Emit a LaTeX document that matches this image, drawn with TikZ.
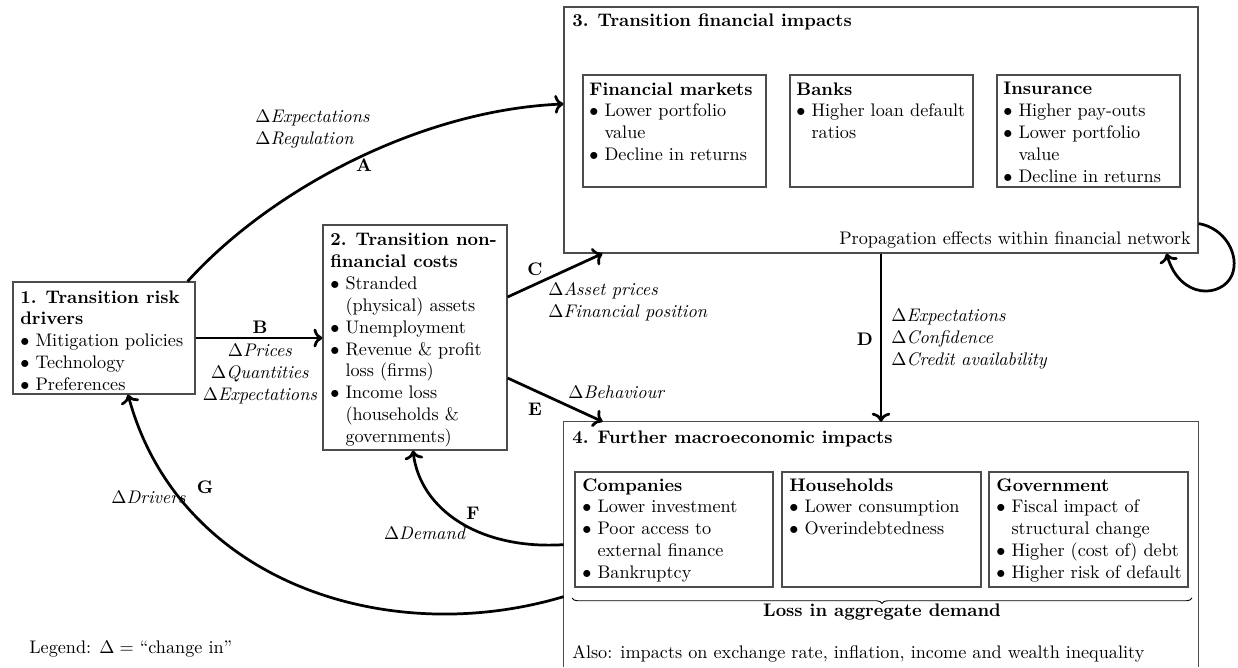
\documentclass[tikz,border=0pt]{standalone}
\usetikzlibrary{fit,decorations.pathreplacing,arrows.meta}
\newcommand{\pxu}{0.5495pt}
\newcommand{\myb}{$\bullet$\ }
\newcommand{\myc}{$\hphantom{\bullet}$\ }
\begin{document}
\begin{tikzpicture}[x=0.5495pt, y=-0.5495pt,
  box/.style={draw=black!70, line width=0.6pt, inner sep=0pt},
  boxline/.style={draw=black!70, line width=0.6pt},
  txt/.style={align=left, inner sep=0pt, anchor=north west},
  lbl/.style={inner sep=0pt, align=left},
  arr/.style={->, line width=1.5pt, black},
  letter/.style={inner sep=0pt, font=\bfseries}]

\useasboundingbox (0,0) rectangle (1238,667);

% main boxes
\node[box, fit={(13,282) (195,394)}] (b1) {};
\node[box, fit={(323,225) (507,450)}] (b2) {};
\node[box, fit={(564,7) (1198,253)}] (b3) {};
\node[inner sep=0pt, fit={(564,422) (1198,667)}] (b4) {};
\draw[boxline] (b4.south west) -- (b4.north west) -- (b4.north east) -- (b4.south east);

% inner boxes
\node[box, fit={(583,75) (766,187)}] (fm) {};
\node[box, fit={(790,75) (973,187)}] (bk) {};
\node[box, fit={(997,75) (1180,187)}] (ins) {};
\node[box, fit={(575,472) (773,587)}] (co) {};
\node[box, fit={(782,472) (981,587)}] (hh) {};
\node[box, fit={(989,472) (1188,587)}] (gv) {};

% texts
\node[txt] (t1) at (20,290) {\textbf{1.\enspace Transition risk}\\\textbf{drivers}\\\myb Mitigation policies\\\myb Technology\\\myb Preferences};
\node[txt] (t2) at (330,233) {\textbf{2.\enspace Transition non-}\\\textbf{financial costs}\\\myb Stranded\\\myc (physical) assets\\\myb Unemployment\\\myb Revenue \& profit\\\myc loss (firms)\\\myb Income loss\\\myc (households \&\\\myc governments)};
\node[txt] (t3) at (572,13) {\textbf{3.\enspace Transition financial impacts}};
\node[txt] (tfm) at (589,82) {\textbf{Financial markets}\\\myb Lower portfolio\\\myc value\\\myb Decline in returns};
\node[txt] (tbk) at (796,82) {\textbf{Banks}\\\myb Higher loan default\\\myc ratios};
\node[txt] (tins) at (1003,82) {\textbf{Insurance}\\\myb Higher pay-outs\\\myb Lower portfolio\\\myc value\\\myb Decline in returns};
\node[lbl, anchor=south east] (prop) at (1191,249) {Propagation effects within financial network};

\node[txt] (t4) at (572,430) {\textbf{4.\enspace Further macroeconomic impacts}};
\node[txt] (tco) at (582,478) {\textbf{Companies}\\\myb Lower investment\\\myb Poor access to\\\myc external finance\\\myb Bankruptcy};
\node[txt] (thh) at (789,478) {\textbf{Households}\\\myb Lower consumption\\\myb Overindebtedness};
\node[txt] (tgv) at (996,478) {\textbf{Government}\\\myb Fiscal impact of\\\myc structural change\\\myb Higher (cost of) debt\\\myb Higher risk of default};
\draw[decorate, decoration={brace, mirror, amplitude=3pt}, line width=0.5pt] (572,598) -- (1192,598);
\node[lbl, font=\bfseries] (loss) at (882,612) {Loss in aggregate demand};
\node[lbl, anchor=base west] (also) at (572,658) {Also: impacts on exchange rate, inflation, income and wealth inequality};
\node[lbl, anchor=base west] (leg) at (29,653) {Legend: $\Delta=$ ``change in''};

% connectors
\draw[arr] ([xshift=-8*\pxu]b1.north east) .. controls (270,190) and (420,110) .. ([yshift=26*\pxu]b3.west);
\draw[arr] (b1.east) -- (b1.east -| b2.west);
\draw[arr] ([yshift=40.5*\pxu]b2.east) -- ([xshift=39*\pxu]b3.south west);
\draw[arr] ([yshift=-40.5*\pxu]b2.east) -- ([xshift=39*\pxu]b4.north west);
\draw[arr] (b3.south) -- (b4.north);
\draw[arr] ([yshift=-123*\pxu]b4.north west) .. controls (480,550) and (420,510) .. ([xshift=-2*\pxu]b2.south);
\draw[arr] ([yshift=-175*\pxu]b4.north west) .. controls (385,650) and (178,580) .. ([xshift=24*\pxu]b1.south);
\draw[arr] ([yshift=30*\pxu]b3.south east) .. controls (1225,228) and (1240,255) .. (1232,275) .. controls (1222,298) and (1180,300) .. ([xshift=-32*\pxu]b3.south east);

% labels
\node[lbl, anchor=west] (la) at (255,129) {$\Delta$\textit{Expectations}\\$\Delta$\textit{Regulation}};
\node[letter] (lA) at (364,165) {A};
\node[letter] (lB) at (260,327) {B};
\node[lbl, align=center] (lb) at (260,374) {$\Delta$\textit{Prices}\\$\Delta$\textit{Quantities}\\$\Delta$\textit{Expectations}};
\node[letter] (lC) at (535,269) {C};
\node[lbl, anchor=west] (lc) at (548,302) {$\Delta$\textit{Asset prices}\\$\Delta$\textit{Financial position}};
\node[letter] (lD) at (865,339) {D};
\node[lbl, anchor=west] (ld) at (891,339) {$\Delta$\textit{Expectations}\\$\Delta$\textit{Confidence}\\$\Delta$\textit{Credit availability}};
\node[letter] (lE) at (535,409) {E};
\node[lbl, anchor=west] (le) at (568,392) {$\Delta$\textit{Behaviour}};
\node[letter] (lF) at (473,513) {F};
\node[lbl] (lf) at (425,533) {$\Delta$\textit{Demand}};
\node[letter] (lG) at (205,487) {G};
\node[lbl, anchor=east] (lg) at (186,497) {$\Delta$\textit{Drivers}};
\end{tikzpicture}
\end{document}
